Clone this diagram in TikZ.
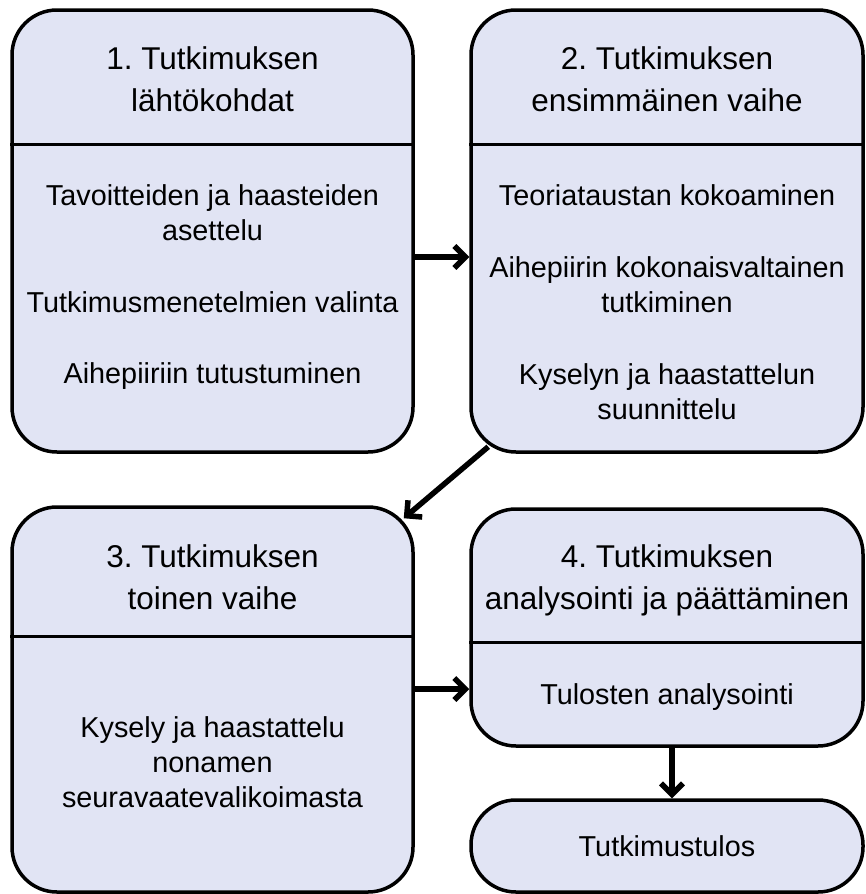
\documentclass[tikz,border=0pt]{standalone}
\usepackage{fontspec}
\setmainfont{Liberation Sans}
\usetikzlibrary{arrows.meta}
\definecolor{boxfill}{RGB}{225,228,244}
\frenchspacing
\tikzset{
  box/.style={draw=black, line width=3.5pt, fill=boxfill, rounded corners=45pt, inner sep=0pt},
  sepline/.style={line width=3.5pt},
  hd/.style={font=\fontsize{31.5}{38}\selectfont, anchor=base, inner sep=0pt},
  ct/.style={font=\fontsize{28.8}{35}\selectfont, anchor=base, inner sep=0pt},
  arr/.style={line width=5.5pt, -{Straight Barb[length=11pt, width=22pt]}},
}
\begin{document}
\begin{tikzpicture}[x=1pt,y=-1pt]
\useasboundingbox (0,0) rectangle (866,894);
% boxes
\node[box, minimum width=401pt, minimum height=442pt] (b1) at (212.5,231) {};
\node[box, minimum width=392pt, minimum height=442pt] (b2) at (667,231) {};
\node[box, minimum width=401pt, minimum height=385pt] (b3) at (212.5,699.5) {};
\node[box, minimum width=392pt, minimum height=237pt] (b4) at (667,627.5) {};
\node[box, minimum width=392pt, minimum height=92pt] (b5) at (667,846) {};
% header separators
\draw[sepline] ([yshift=-136pt]b1.north west) -- ([yshift=-136pt]b1.north east);
\draw[sepline] ([yshift=-136pt]b2.north west) -- ([yshift=-136pt]b2.north east);
\draw[sepline] ([yshift=-131pt]b3.north west) -- ([yshift=-131pt]b3.north east);
\draw[sepline] ([yshift=-135pt]b4.north west) -- ([yshift=-135pt]b4.north east);
% box 1
\node[hd] (h1a) at (212.5,69) {1. Tutkimuksen};
\node[hd] (h1b) at (212.5,111) {lähtökohdat};
\node[ct] (c1a) at (212.5,205) {Tavoitteiden ja haasteiden};
\node[ct] (c1b) at (212.5,240) {asettelu};
\node[ct] (c1c) at (212.5,312) {Tutkimusmenetelmien valinta};
\node[ct] (c1d) at (212.5,383) {Aihepiiriin tutustuminen};
% box 2
\node[hd] (h2a) at (667,69) {2. Tutkimuksen};
\node[hd] (h2b) at (667,111) {ensimmäinen vaihe};
\node[ct] (c2a) at (667,205) {Teoriataustan kokoaminen};
\node[ct] (c2b) at (667,277) {Aihepiirin kokonaisvaltainen};
\node[ct] (c2c) at (667,312) {tutkiminen};
\node[ct] (c2d) at (667,384) {Kyselyn ja haastattelun};
\node[ct] (c2e) at (667,419) {suunnittelu};
% box 3
\node[hd] (h3a) at (212.5,567) {3. Tutkimuksen};
\node[hd] (h3b) at (212.5,609) {toinen vaihe};
\node[ct] (c3a) at (212.5,737) {Kysely ja haastattelu};
\node[ct] (c3b) at (212.5,772) {nonamen};
\node[ct] (c3c) at (212.5,807) {seuravaatevalikoimasta};
% box 4
\node[hd] (h4a) at (667,567) {4. Tutkimuksen};
\node[hd] (h4b) at (667,609) {analysointi ja päättäminen};
\node[ct] (c4a) at (667,704) {Tulosten analysointi};
% box 5
\node[ct] (c5a) at (667,856) {Tutkimustulos};
% arrows
\coordinate (a1) at ([yshift=-26pt]b1.east);
\draw[arr] (a1) -- (a1 -| b2.west);
\coordinate (a2) at ([yshift=10.5pt]b3.east);
\draw[arr] (a2) -- (a2 -| b4.west);
\draw[arr] ([xshift=5pt]b4.south) -- ([xshift=5pt]b5.north);
\draw[arr] ([xshift=19pt,yshift=7pt]b2.south west) -- ([xshift=-11pt,yshift=-13pt]b3.north east);
\end{tikzpicture}
\end{document}
